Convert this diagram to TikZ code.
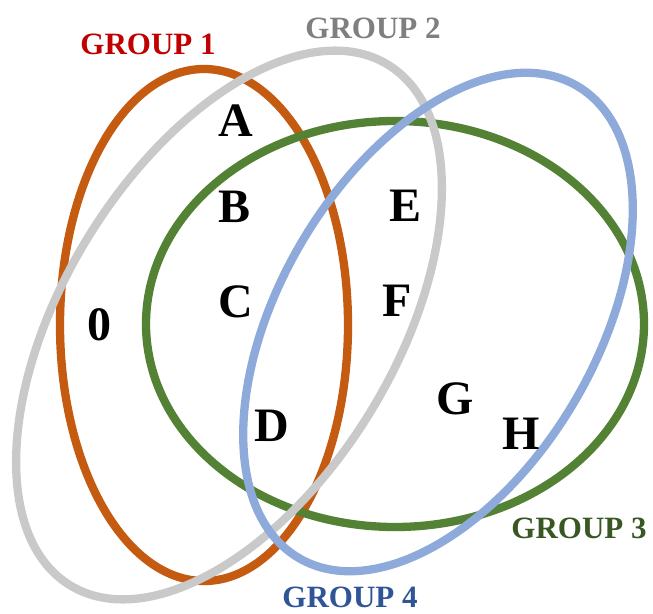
\documentclass[tikz,border=0pt]{standalone}
\usepackage{fontspec}
\setmainfont{Liberation Serif}
\begin{document}
\begin{tikzpicture}[x=1pt,y=-1pt,
  ring/.style={line width=8.3pt},
  letter/.style={font=\fontsize{48}{48}\selectfont\bfseries, inner sep=0pt, anchor=center},
  grouplabel/.style={font=\fontsize{31}{31}\selectfont\bfseries, inner sep=0pt, anchor=center}]
\definecolor{orangeR}{HTML}{C55A11}
\definecolor{grayR}{HTML}{C9C9C9}
\definecolor{greenR}{HTML}{548235}
\definecolor{blueR}{HTML}{8EAADB}
\definecolor{redL}{HTML}{C00000}
\definecolor{grayL}{HTML}{7F7F7F}
\definecolor{greenL}{HTML}{385723}
\definecolor{blueL}{HTML}{2F5597}
\useasboundingbox (0,0) rectangle (653,613);
% group 1 (orange)
\draw[ring, orangeR] (204,325) ellipse [x radius=144pt, y radius=256pt];
% group 3 (green)
\draw[ring, greenR] (395,324) ellipse [x radius=249pt, y radius=203pt];
% group 2 (gray)
\draw[ring, grayR, rotate around={58.6:(229,325)}] (229,325) ellipse [x radius=305pt, y radius=166pt];
% group 4 (blue)
\draw[ring, blueR, rotate around={59.4:(438,322)}] (438,322) ellipse [x radius=274pt, y radius=158pt];
% letters
\node[letter] (nA) at (236,121) {A};
\node[letter] (nB) at (235,207) {B};
\node[letter] (nC) at (236,302) {C};
\node[letter] (n0) at (99,325) {0};
\node[letter] (nD) at (272,426) {D};
\node[letter] (nE) at (406,206) {E};
\node[letter] (nF) at (397,301) {F};
\node[letter] (nG) at (455,399) {G};
\node[letter] (nH) at (521,434) {H};
% group labels
\node[grouplabel, text=redL] (g1) at (148,44) {GROUP 1};
\node[grouplabel, text=grayL] (g2) at (373,28) {GROUP 2};
\node[grouplabel, text=greenL] (g3) at (579,528) {GROUP 3};
\node[grouplabel, text=blueL] (g4) at (350,597) {GROUP 4};
\end{tikzpicture}
\end{document}
